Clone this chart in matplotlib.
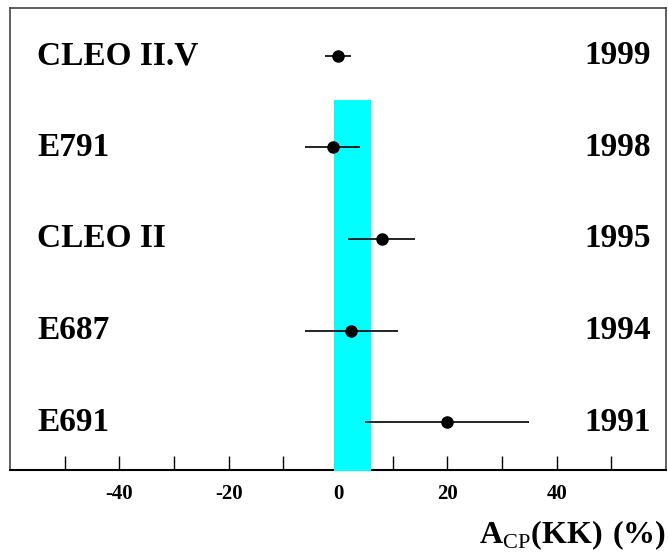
#!/usr/bin/env python
import matplotlib
matplotlib.use('Agg')
from matplotlib import pyplot as plt

# Measurements (top to bottom)
experiments = ['CLEO II.V', 'E791', 'CLEO II', 'E687', 'E691']
years = ['1999', '1998', '1995', '1994', '1991']
acp = [0.0, -1.0, 8.0, 2.4, 20.0]
acp_err = [2.4, 5.0, 6.1, 8.5, 15.0]

# Shaded band (average region)
band_lo, band_hi = -0.8, 6.1
band_top = 4.52

tick_pos = [-50, -40, -30, -20, -10, 0, 10, 20, 30, 40, 50]
tick_labels = ['', '-40', '', '-20', '', '0', '', '20', '', '40', '']

plt.rcParams['font.family'] = ['Liberation Serif', 'DejaVu Serif']
plt.rcParams['mathtext.fontset'] = 'custom'
plt.rcParams['mathtext.rm'] = 'Liberation Serif'
plt.rcParams['mathtext.bf'] = 'Liberation Serif:bold'


def main():
    fig = plt.figure(figsize=(6.68, 5.54), dpi=100)
    ax = fig.add_axes([10 / 668, 84 / 554, 656 / 668, 462 / 554])

    n = len(experiments)
    rows = list(range(n, 0, -1))

    ax.fill_between([band_lo, band_hi], 0, band_top, color='#00ffff',
                    linewidth=0, zorder=3)

    ax.errorbar(acp, rows, xerr=acp_err, fmt='o', color='black',
                markersize=8, elinewidth=1.2, capsize=0, zorder=4)

    for name, year, y in zip(experiments, years, rows):
        ax.text(27 / 656, y, name, transform=ax.get_yaxis_transform(),
                fontsize=24, fontweight='bold', va='center', ha='left')
        ax.text(641 / 656, y, year, transform=ax.get_yaxis_transform(),
                fontsize=24, fontweight='bold', va='center', ha='right')

    ax.set_xlim(-60, 60)
    ax.set_ylim(0.48, 5.52)
    ax.set_yticks([])
    ax.set_xticks(tick_pos)
    ax.set_xticklabels(tick_labels, fontsize=15, fontweight='bold')
    ax.tick_params(axis='x', direction='in', length=10, width=1, pad=10)

    for side in ['left', 'top', 'right']:
        ax.spines[side].set_color('#444444')
        ax.spines[side].set_linewidth(1.2)
    ax.spines['bottom'].set_linewidth(1.5)

    fig.text(666 / 668, 11 / 554, r'$\mathbf{A}_{\rm CP}\mathbf{(KK)\ (\%)}$',
             fontsize=23, ha='right', va='baseline')

    fig.savefig('out.png', dpi=100)
    plt.close(fig)


if __name__ == '__main__':
    main()
